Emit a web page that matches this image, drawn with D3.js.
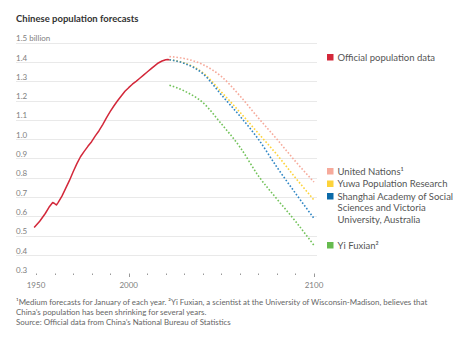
<!DOCTYPE html>
<html><head><meta charset="utf-8">
<script src="https://cdn.jsdelivr.net/npm/d3@7"></script>
<style>
html,body{margin:0;padding:0;background:#fff;}
svg{display:block;font-family:Lato,"Open Sans",sans-serif;}
</style></head>
<body>
<svg id="c" width="456" height="340"></svg>
<script>
// ---- data ----
const officialYears = [1949,1952,1955,1957,1959,1960,1961,1962,1964,1966,1968,1970,1972,1974,1976,1978,1980,1982,1984,1986,1988,1990,1992,1994,1996,1998,2000,2002,2004,2006,2008,2010,2012,2014,2016,2018,2020,2021,2022];
const officialValues = [0.542,0.575,0.615,0.647,0.672,0.667,0.659,0.673,0.705,0.745,0.785,0.830,0.872,0.909,0.937,0.963,0.987,1.017,1.044,1.075,1.110,1.143,1.172,1.199,1.224,1.248,1.267,1.285,1.300,1.316,1.332,1.348,1.364,1.380,1.395,1.405,1.412,1.413,1.412];

const forecastYears = [2022,2030,2040,2050,2060,2070,2080,2090,2100];
const unValues       = [1.428,1.418,1.387,1.325,1.225,1.110,1.000,0.885,0.778];
const yuwaValues     = [1.412,1.395,1.345,1.245,1.140,1.030,0.920,0.800,0.685];
const shanghaiValues = [1.412,1.393,1.340,1.230,1.120,1.000,0.855,0.720,0.590];
const yiValues       = [1.280,1.250,1.190,1.080,0.960,0.810,0.690,0.575,0.450];

const yTicks = [0.3,0.4,0.5,0.6,0.7,0.8,0.9,1.0,1.1,1.2,1.3,1.4,1.5];
const xTicks = d3.range(1950, 2101, 10);
const xLabels = [1950, 2000, 2100];

const title = "Chinese population forecasts";
const legendItems = [
  {lines:["Official population data"], color:"#d3283a", y:60.5},
  {lines:["United Nations\u00B9"], color:"#f6aa9b", y:174.5},
  {lines:["Yuwa Population Research"], color:"#fdd33a", y:187},
  {lines:["Shanghai Academy of Social","Sciences and Victoria","University, Australia"], color:"#0b6aa8", y:199.5},
  {lines:["Yi Fuxian\u00B2"], color:"#66bb4f", y:248.5}
];
const notes = [
  "\u00B9Medium forecasts for January of each year. \u00B2Yi Fuxian, a scientist at the University of Wisconsin-Madison, believes that",
  "China\u2019s population has been shrinking for several years.",
  "Source: Official data from China\u2019s National Bureau of Statistics"
];

// ---- chart ----
const svg = d3.select("#c");
const x = d3.scaleLinear().domain([1950, 2100]).range([36, 314]);
const y = d3.scaleLinear().domain([0.3, 1.5]).range([274.3, 42.7]);

svg.append("text").attr("x",16).attr("y",21.5)
  .attr("font-size",9.5).attr("font-weight",700).attr("fill","#333")
  .text(title);

// gridlines + labels
const g = svg.append("g");
yTicks.forEach(t => {
  if (t > 0.3) {
    g.append("line").attr("x1",16).attr("x2",317)
      .attr("y1",Math.round(y(t))+0.5).attr("y2",Math.round(y(t))+0.5)
      .attr("stroke","#e9e9e9").attr("stroke-width",1);
  }
  g.append("text").attr("x",16).attr("y",y(t)-1.5)
    .attr("font-size",8).attr("fill","#808080")
    .text(t === 1.5 ? "1.5 billion" : d3.format(".1f")(t));
});

// x axis ticks
xTicks.forEach(t => {
  const major = xLabels.includes(t) && t !== 1950;
  svg.append("line").attr("x1",Math.round(x(t))+0.5).attr("x2",Math.round(x(t))+0.5)
    .attr("y1",273.5).attr("y2",major?277:275)
    .attr("stroke","#999").attr("stroke-width",1);
});
xLabels.forEach(t => {
  svg.append("text").attr("x",x(t)).attr("y",287.5).attr("text-anchor","middle")
    .attr("font-size",8).attr("fill","#808080").text(t);
});

// lines
const line = d3.line().x(d=>x(d[0])).y(d=>y(d[1]));
const smooth = d3.line().x(d=>x(d[0])).y(d=>y(d[1])).curve(d3.curveMonotoneX);

const series = [
  {vals:unValues, color:"#f6aa9b"},
  {vals:yuwaValues, color:"#fdd33a"},
  {vals:shanghaiValues, color:"#2f86c4"},
  {vals:yiValues, color:"#72c25a"}
];
series.forEach(s => {
  svg.append("path").datum(forecastYears.map((yr,i)=>[yr,s.vals[i]]))
    .attr("d",smooth).attr("fill","none").attr("stroke",s.color)
    .attr("stroke-width",1.6).attr("stroke-dasharray","1.6 1.9");
});

svg.append("path").datum(officialYears.map((yr,i)=>[yr,officialValues[i]]))
  .attr("d",line).attr("fill","none").attr("stroke","#d3283a")
  .attr("stroke-width",1.5).attr("stroke-linejoin","round");

// legend
legendItems.forEach(it => {
  svg.append("rect").attr("x",327).attr("y",it.y-6.5).attr("width",6.5).attr("height",6.5).attr("fill",it.color);
  it.lines.forEach((ln,i) => {
    svg.append("text").attr("x",337.5).attr("y",it.y + i*11.7)
      .attr("font-size",9.5).attr("fill","#555").text(ln);
  });
});

// notes
notes.forEach((n,i) => {
  svg.append("text").attr("x",16).attr("y",[304.5,314.5,325][i])
    .attr("font-size",7.9).attr("fill","#666").text(n);
});
</script>
</body></html>
